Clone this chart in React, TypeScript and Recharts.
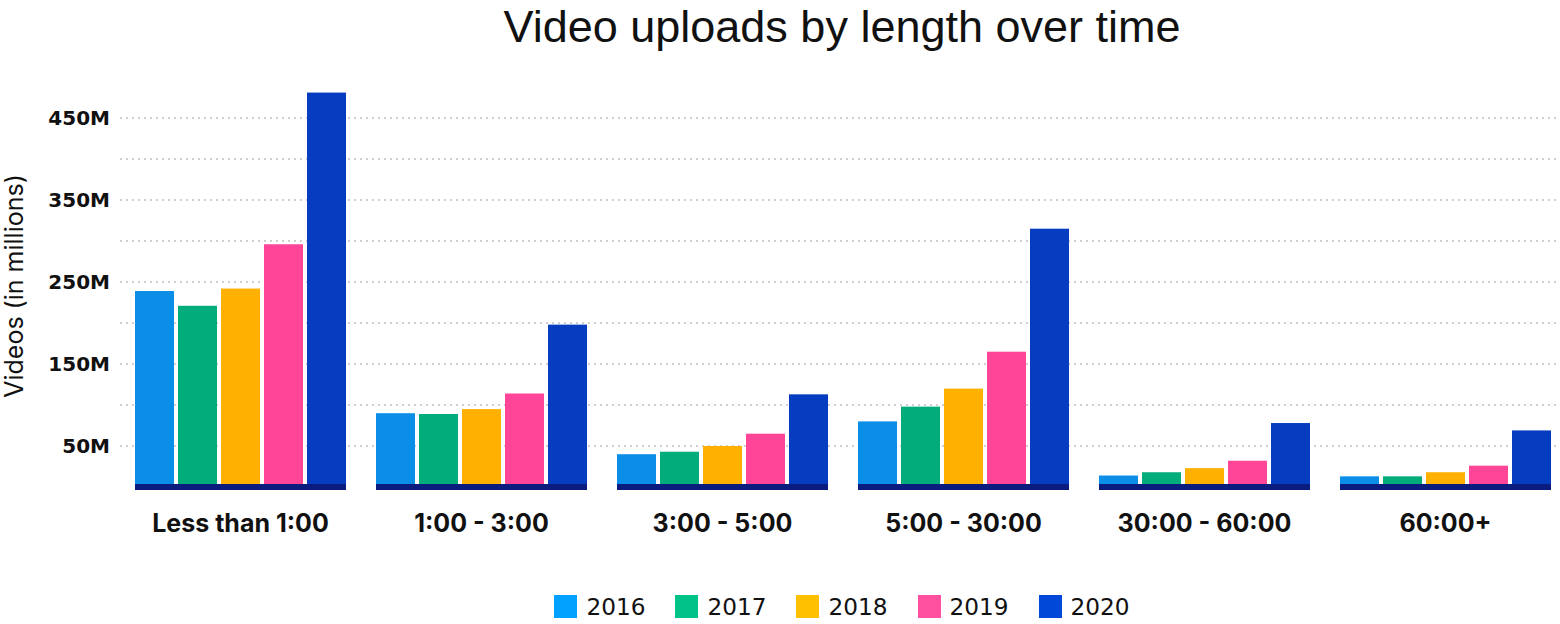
import { BarChart, Bar, XAxis, YAxis, CartesianGrid, Legend, Customized } from 'recharts';

const categories = ['Less than 1:00', '1:00 - 3:00', '3:00 - 5:00', '5:00 - 30:00', '30:00 - 60:00', '60:00+'];
const years = ['2016', '2017', '2018', '2019', '2020'];

// millions of uploads
const v2016 = [239, 90, 40, 80, 14, 13];
const v2017 = [221, 89, 43, 98, 18, 13];
const v2018 = [242, 95, 50, 120, 23, 18];
const v2019 = [296, 114, 65, 165, 32, 26];
const v2020 = [481, 198, 113, 315, 78, 69];

const yTicks = [50, 100, 150, 200, 250, 300, 350, 400, 450];

const barColors = ['#0a8ee8', '#03ad7b', '#ffb000', '#ff4597', '#053cc0'];
const legendColors = ['#00a0ff', '#00c389', '#ffc000', '#ff50a0', '#0048d8'];
const baseColor = '#0a1c7e';

const series = [v2016, v2017, v2018, v2019, v2020];

const data = categories.map((name, i) => {
  const row: Record<string, string | number> = { name };
  years.forEach((y, j) => {
    row[y] = series[j][i];
  });
  return row;
});

const font = 'Inter, "Noto Sans", sans-serif';
const wideFont = '"DejaVu Sans", sans-serif';

const makeShape = (idx: number) => (props: any) => {
  const { x, y, width, height, fill } = props;
  const left = idx === 0 ? x : x - 2;
  const right = idx === years.length - 1 ? x + width : x + width + 2;
  const bottom = y + height;
  return (
    <g>
      <rect x={x} y={y} width={width} height={height} fill={fill} />
      <rect x={left} y={bottom - 3} width={right - left} height={6} fill={baseColor} />
    </g>
  );
};

const XTick = (props: any) => {
  const { x, y, payload } = props;
  return (
    <text x={x} y={y + 43} textAnchor="middle" fontFamily={font} fontWeight={700} fontSize={25} fill="#111">
      {payload.value}
    </text>
  );
};

const Title = (props: any) => {
  const { offset } = props;
  const cx = offset ? offset.left + offset.width / 2 : 842;
  return (
    <text x={cx} y={42} textAnchor="middle" fontFamily='"Liberation Sans", Arial, sans-serif' fontSize={45} fill="#111">
      Video uploads by length over time
    </text>
  );
};

const LegendContent = () => (
  <div
    style={{
      display: 'flex',
      justifyContent: 'center',
      alignItems: 'center',
      height: 36,
      paddingLeft: 118,
      gap: 30,
      fontFamily: wideFont,
      fontSize: 23.2,
      color: '#111',
    }}
  >
    {years.map((y, i) => (
      <div key={y} style={{ display: 'flex', alignItems: 'center' }}>
        <div style={{ width: 23, height: 23, backgroundColor: legendColors[i], marginRight: 9 }} />
        <span>{y}</span>
      </div>
    ))}
  </div>
);

export default function App() {
  return (
    <div style={{ position: 'absolute', left: 0, top: 0, width: 1560, height: 624, overflow: 'hidden', background: '#fff' }}>
      <BarChart
        width={1566}
        height={624}
        data={data}
        margin={{ top: 77, right: 0, bottom: 0, left: 0 }}
        barCategoryGap={15}
        barGap={4}
      >
        <CartesianGrid
          vertical={false}
          horizontalValues={yTicks}
          stroke="#cfcfcf"
          strokeWidth={2}
          strokeDasharray="2 4"
        />
        <XAxis
          dataKey="name"
          height={101}
          axisLine={false}
          tickLine={false}
          tickSize={0}
          interval={0}
          tick={<XTick />}
        />
        <YAxis
          width={120}
          domain={[0, 500]}
          ticks={yTicks}
          axisLine={false}
          tickLine={false}
          tickSize={0}
          tickMargin={10}
          tickFormatter={(v: number) => (v % 100 === 50 ? `${v}M` : '')}
          tick={{ fontFamily: wideFont, fontWeight: 700, fontSize: 20, fill: '#111' }}
          label={(p: any) => {
            const vb = p.viewBox || { y: 77, height: 410 };
            const cy = vb.y + vb.height / 2 + 4;
            return (
              <text
                x={23}
                y={cy}
                transform={`rotate(-90, 23, ${cy})`}
                textAnchor="middle"
                fontFamily={font}
                fontSize={25}
                fill="#111"
              >
                Videos (in millions)
              </text>
            );
          }}
        />
        <Legend verticalAlign="bottom" content={<LegendContent />} />
        {years.map((y, i) => (
          <Bar
            key={y}
            dataKey={y}
            fill={barColors[i]}
            isAnimationActive={false}
            shape={makeShape(i)}
          />
        ))}
        <Customized component={Title} />
      </BarChart>
    </div>
  );
}
